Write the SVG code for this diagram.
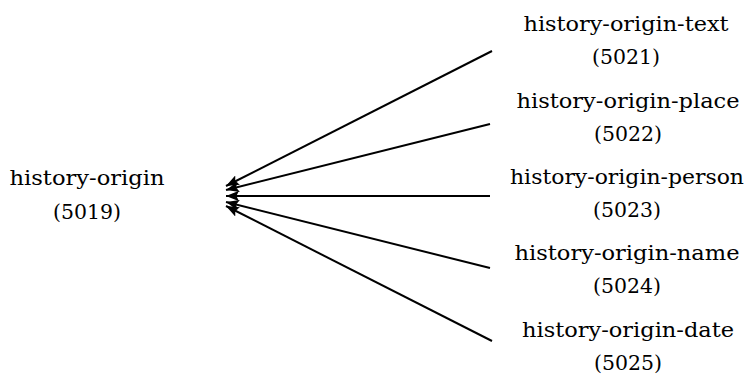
<svg xmlns="http://www.w3.org/2000/svg" width="745" height="379" viewBox="0 0 745 379">
<style>
text{font-family:'DejaVu Serif','Liberation Serif',serif;font-size:21px;fill:#000;text-anchor:middle}
.e{stroke:#000;stroke-width:2;fill:none;marker-end:url(#ah)}
</style>
<defs>
<marker id="ah" viewBox="0 0 10 8" refX="10" refY="4" markerWidth="6.5" markerHeight="5.2" orient="auto" markerUnits="strokeWidth">
<path d="M0,0 L10,4 L0,8 L2,4 Z" fill="#000"/>
</marker>
</defs>
<rect width="745" height="379" fill="#fff"/>
<g id="connectors">
<line class="e" x1="492" y1="51" x2="226" y2="186"/>
<line class="e" x1="490" y1="124" x2="226" y2="190"/>
<line class="e" x1="490" y1="196" x2="226" y2="196"/>
<line class="e" x1="490" y1="268" x2="226" y2="202"/>
<line class="e" x1="492" y1="341" x2="226" y2="206"/>
</g>
<g id="n5019"><text x="87" y="185" textLength="155" lengthAdjust="spacingAndGlyphs">history-origin</text><text x="87" y="219" textLength="68" lengthAdjust="spacingAndGlyphs">(5019)</text></g>
<g id="n5021"><text x="626" y="31" textLength="205" lengthAdjust="spacingAndGlyphs">history-origin-text</text><text x="626" y="64" textLength="68" lengthAdjust="spacingAndGlyphs">(5021)</text></g>
<g id="n5022"><text x="628" y="108" textLength="223" lengthAdjust="spacingAndGlyphs">history-origin-place</text><text x="628" y="141" textLength="68" lengthAdjust="spacingAndGlyphs">(5022)</text></g>
<g id="n5023"><text x="627" y="184" textLength="234" lengthAdjust="spacingAndGlyphs">history-origin-person</text><text x="627" y="217" textLength="68" lengthAdjust="spacingAndGlyphs">(5023)</text></g>
<g id="n5024"><text x="627" y="260" textLength="225" lengthAdjust="spacingAndGlyphs">history-origin-name</text><text x="627" y="293" textLength="68" lengthAdjust="spacingAndGlyphs">(5024)</text></g>
<g id="n5025"><text x="628" y="337" textLength="212" lengthAdjust="spacingAndGlyphs">history-origin-date</text><text x="628" y="370" textLength="68" lengthAdjust="spacingAndGlyphs">(5025)</text></g>
</svg>
